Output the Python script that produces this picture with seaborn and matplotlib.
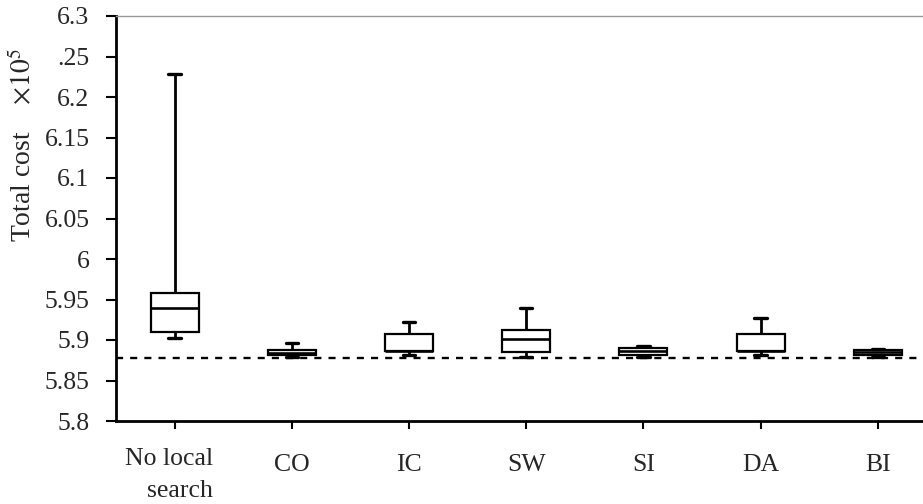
import numpy as np
import pandas as pd
import seaborn as sns
import matplotlib
matplotlib.use("Agg")
import matplotlib.pyplot as plt
from matplotlib.transforms import ScaledTranslation

# ---- data (five-number summaries) ----
categories = ["No local\nsearch", "CO", "IC", "SW", "SI", "DA", "BI"]
whisker_low = [5.903, 5.879, 5.882, 5.879, 5.879, 5.882, 5.879]
q1 = [5.9095, 5.8815, 5.886, 5.885, 5.882, 5.886, 5.8815]
median = [5.9395, 5.884, 5.8865, 5.9016, 5.887, 5.8865, 5.885]
q3 = [5.958, 5.888, 5.907, 5.912, 5.890, 5.907, 5.888]
whisker_high = [6.228, 5.896, 5.922, 5.940, 5.892, 5.927, 5.889]
best_known = 5.878
ytick_values = [5.8, 5.85, 5.9, 5.95, 6.0, 6.05, 6.1, 6.15, 6.2, 6.25, 6.3]
ytick_labels = ["5.8", "5.85", "5.9", "5.95", "6", "6.05", "6.1", "6.15",
                "6.2", ".25", "6.3"]
ylabel_text = "Total cost    $\\times10^{5}$"

rows = []
for cat, a, b, c, d, e in zip(categories, whisker_low, q1, median, q3, whisker_high):
    for v in (a, b, c, d, e):
        rows.append({"method": cat, "cost": v})
df = pd.DataFrame(rows)

sns.set_style("ticks")
plt.rcParams["font.family"] = ["Liberation Serif", "DejaVu Serif"]
plt.rcParams["mathtext.fontset"] = "stix"

W, H = 923, 504
fig = plt.figure(figsize=(W / 100, H / 100), dpi=100)
left_px, bottom_px, top_px = 116, 421, 16
ax = fig.add_axes([left_px / W, (H - bottom_px) / H, 1 - left_px / W,
                   (bottom_px - top_px) / H])

sns.boxplot(data=df, x="method", y="cost", order=categories, ax=ax,
            width=0.41, whis=(0, 100), color="white", linecolor="black",
            linewidth=1.6, fliersize=0, saturation=1,
            whiskerprops=dict(linewidth=2.0),
            capprops=dict(linewidth=2.4),
            medianprops=dict(linewidth=1.9),
            capwidths=0.105)

ax.axhline(best_known, color="black", linewidth=1.7, linestyle=(0, (3, 3)))

ax.set_ylim(5.8, 6.3)
ax.set_xlim(-0.5, -0.5 + (W - left_px) / 117.2)
ax.set_yticks(ytick_values)
ax.set_yticklabels(ytick_labels)
ax.set_xlabel("")

ax.tick_params(axis="y", labelsize=18.5, length=7, width=1.5, pad=12,
               direction="out", color="black")
ax.tick_params(axis="x", labelsize=18.5, length=6, width=1.5, pad=18,
               direction="out", color="black")

for s in ("left", "bottom"):
    ax.spines[s].set_linewidth(2.0)
    ax.spines[s].set_color("black")
ax.spines["top"].set_visible(True)
ax.spines["top"].set_color("#999999")
ax.spines["top"].set_linewidth(1.0)
ax.spines["right"].set_visible(False)

first = ax.get_xticklabels()[0]
first.set_multialignment("right")
first.set_linespacing(1.55)
first.set_transform(first.get_transform() +
                    ScaledTranslation(-6 / 100, 6 / 100, fig.dpi_scale_trans))

ax.set_ylabel(ylabel_text, fontsize=20)
ax.yaxis.label.set_verticalalignment("center")
ax.yaxis.set_label_coords((23 - left_px) / (W - left_px),
                          (bottom_px - 145) / (bottom_px - top_px))

fig.savefig("out.png", dpi=100)
